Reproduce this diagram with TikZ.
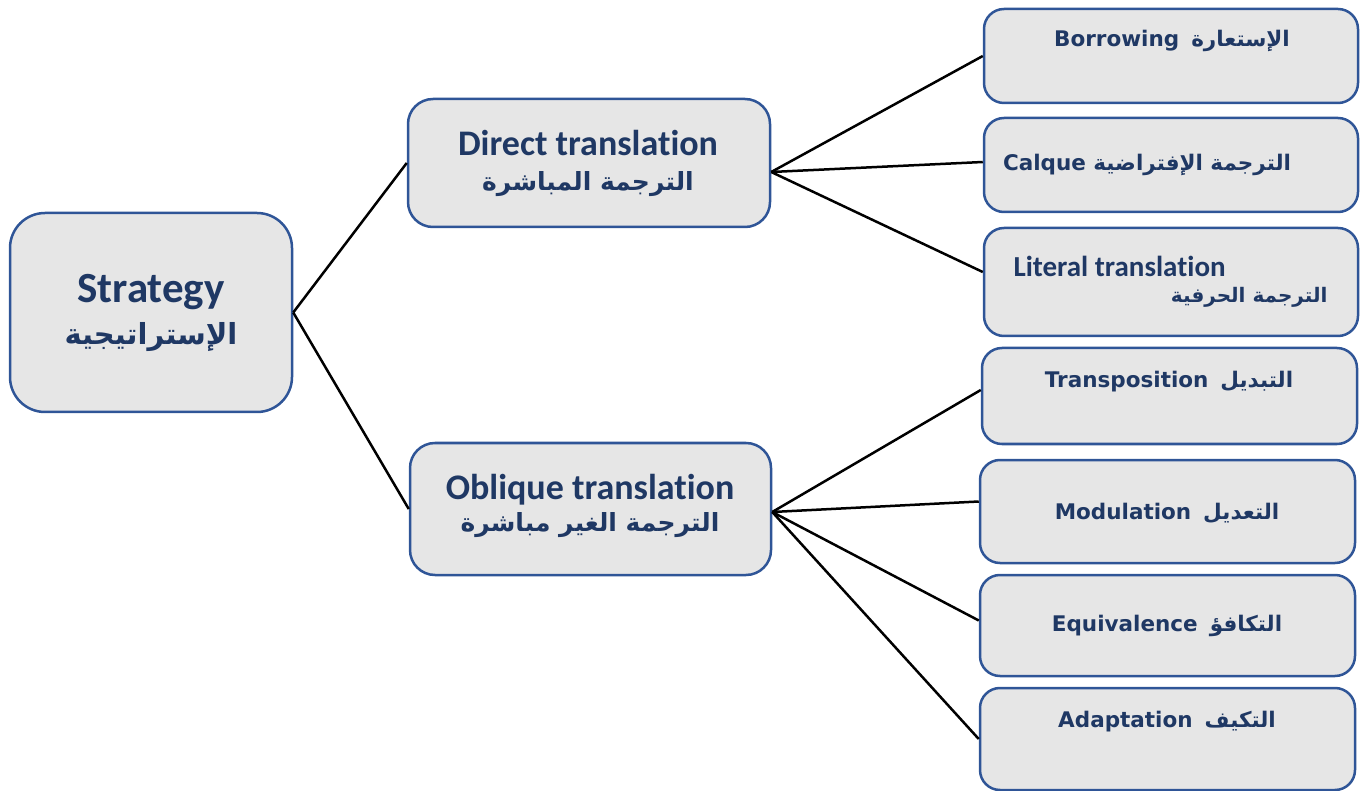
\documentclass[tikz,border=0pt]{standalone}
\usepackage{fontspec}
\setmainfont[Ligatures=NoCommon]{Carlito}
\newfontfamily\arabicfont[Script=Arabic]{DejaVu Sans}
\newfontfamily\widefont{DejaVu Sans}
\TeXXeTstate=1
\definecolor{boxfill}{HTML}{E6E6E6}
\definecolor{boxline}{HTML}{2F5597}
\definecolor{boxtext}{HTML}{1F3864}
\newcommand{\arabtext}[1]{{\arabicfont\beginR #1\endR}}
\begin{document}
\begin{tikzpicture}[x=1pt,y=-1pt,
  box/.style={draw=boxline,line width=2.5pt,fill=boxfill,inner sep=0pt,rounded corners=20pt},
  link/.style={line width=2.5pt,black},
  every node/.append style={text=boxtext},
  bigtext/.style={font=\bfseries\fontsize{43}{48}\selectfont},
  midtext/.style={font=\bfseries\fontsize{36}{42}\selectfont},
  bigar/.style={font=\bfseries\fontsize{29}{34}\selectfont},
  midar/.style={font=\bfseries\fontsize{25}{30}\selectfont},
  smalltext/.style={font=\widefont\bfseries\fontsize{21.5}{26}\selectfont}]
  \useasboundingbox(0,0)rectangle(1363,791);
  % boxes
  \node[box,rounded corners=35pt,minimum width=282pt,minimum height=199pt](strategy)at(151,312.5){};
  \node[box,rounded corners=25pt,minimum width=362pt,minimum height=128pt](direct)at(589,163){};
  \node[box,rounded corners=25pt,minimum width=361pt,minimum height=132pt](oblique)at(590.5,509){};
  \node[box,minimum width=374pt,minimum height=94pt](borrowing)at(1171,56){};
  \node[box,minimum width=374pt,minimum height=94pt](calque)at(1171,165){};
  \node[box,minimum width=374pt,minimum height=108pt](literal)at(1171,282){};
  \node[box,minimum width=375pt,minimum height=96pt](transposition)at(1169.5,396){};
  \node[box,minimum width=375pt,minimum height=103pt](modulation)at(1167.5,511.5){};
  \node[box,minimum width=375pt,minimum height=101pt](equivalence)at(1167.5,625.5){};
  \node[box,minimum width=375pt,minimum height=102pt](adaptation)at(1167.5,739){};
  % connectors
  \draw[link](strategy.east)--(direct.west);
  \draw[link](strategy.east)--(oblique.west);
  \draw[link]([yshift=-9pt]direct.east)--(borrowing.west);
  \draw[link]([yshift=-9pt]direct.east)--([yshift=3pt]calque.west);
  \draw[link]([yshift=-9pt]direct.east)--([yshift=10pt]literal.west);
  \draw[link]([yshift=-3pt]oblique.east)--([yshift=6pt]transposition.west);
  \draw[link]([yshift=-3pt]oblique.east)--([yshift=10pt]modulation.west);
  \draw[link]([yshift=-3pt]oblique.east)--([yshift=5pt]equivalence.west);
  \draw[link]([yshift=-3pt]oblique.east)--(adaptation.west);
  % labels
  \node[bigtext](strategyen)at(151,292){Strategy};
  \node[bigar](strategyar)at(151,337){\arabtext{الإستراتيجية}};
  \node[midtext](directen)at(588,143){Direct translation};
  \node[midar](directar)at(588,184){\arabtext{الترجمة المباشرة}};
  \node[midtext](obliqueen)at(590,490){Oblique translation};
  \node[midar](obliquear)at(590,525){\arabtext{الترجمة الغير مباشرة}};
  \node[smalltext](borrowingtx)at(1172,41){Borrowing\hspace{12pt}\arabtext{الإستعارة}};
  \node[smalltext](calquetx)at(1147,165){Calque \arabtext{الترجمة الإفتراضية}};
  \node[font=\bfseries\fontsize{29}{34}\selectfont,anchor=west](literalen)at(1010,266){Literal translation};
  \node[font=\bfseries\fontsize{20}{24}\selectfont,anchor=east](literalar)at(1331,297){\arabtext{الترجمة الحرفية}};
  \node[smalltext](transpositiontx)at(1169,382){Transposition\hspace{12pt}\arabtext{التبديل}};
  \node[smalltext](modulationtx)at(1167,513){Modulation\hspace{12pt}\arabtext{التعديل}};
  \node[smalltext](equivalencetx)at(1167,626){Equivalence\hspace{12pt}\arabtext{التكافؤ}};
  \node[smalltext](adaptationtx)at(1167,722){Adaptation\hspace{12pt}\arabtext{التكيف}};
\end{tikzpicture}
\end{document}
